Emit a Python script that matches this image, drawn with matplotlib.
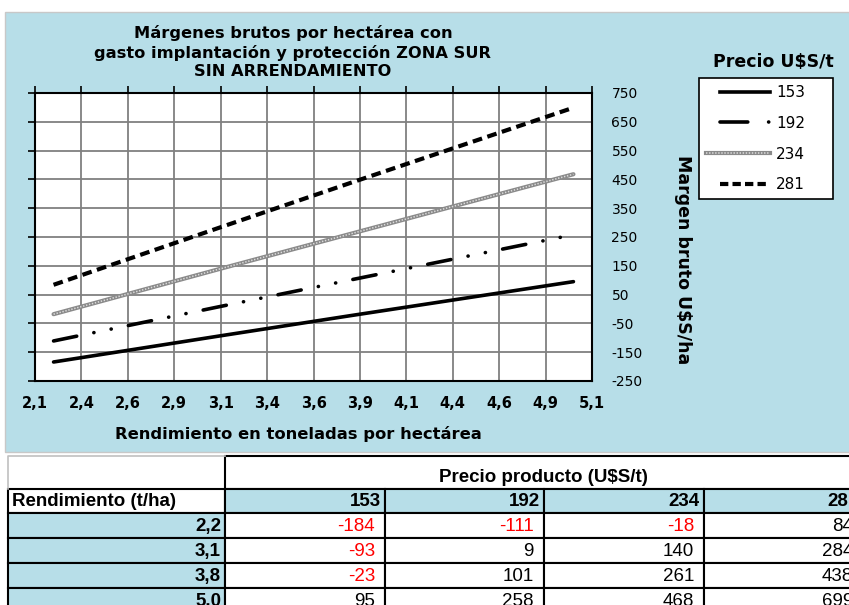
import matplotlib
matplotlib.use('Agg')
import matplotlib.pyplot as plt
from matplotlib.patches import Rectangle
from matplotlib.lines import Line2D
from matplotlib.legend_handler import HandlerLine2D

# ---------------------------------------------------------------------------
# DATA
# ---------------------------------------------------------------------------
yields = [2.2, 3.1, 3.8, 5.0]
yield_labels = ["2,2", "3,1", "3,8", "5,0"]
prices = ["153", "192", "234", "281"]
margin_153 = [-184, -93, -23, 95]
margin_192 = [-111, 9, 101, 258]
margin_234 = [-18, 140, 261, 468]
margin_281 = [84, 284, 438, 699]

x_ticks = [2.1, 2.35, 2.6, 2.85, 3.1, 3.35, 3.6, 3.85, 4.1, 4.35, 4.6, 4.85, 5.1]
x_tick_labels = ["2,1", "2,4", "2,6", "2,9", "3,1", "3,4", "3,6", "3,9",
                 "4,1", "4,4", "4,6", "4,9", "5,1"]
y_ticks = [-250, -150, -50, 50, 150, 250, 350, 450, 550, 650, 750]

W, H = 849, 605
BLUE = '#b7dee8'

plt.rcParams['lines.scale_dashes'] = False
plt.rcParams['font.family'] = ['DejaVu Sans']

fig = plt.figure(figsize=(W / 100, H / 100), dpi=100)
fig.patch.set_facecolor('white')

# background / table layer in pixel coordinates
bg = fig.add_axes([0, 0, 1, 1], zorder=0)
bg.set_xlim(0, W)
bg.set_ylim(H, 0)
bg.axis('off')
bg.add_patch(Rectangle((5, 12), W, 440, facecolor=BLUE, edgecolor='#c8c8c8', lw=1))


def fx(px):
    return px / W


def fy(py):
    return 1 - py / H


# ---------------------------------------------------------------------------
# chart
# ---------------------------------------------------------------------------
ax = fig.add_axes([fx(35), fy(381), fx(592) - fx(35), fy(93) - fy(381)], zorder=2)
ax.set_facecolor('white')

style_192 = (0, (17, 12.6, 0.1, 12.6, 0.1, 12.6))
ax.plot(yields, margin_153, color='black', lw=2.6, solid_capstyle='round')
ax.plot(yields, margin_192, color='black', lw=2.6, dash_capstyle='round',
        linestyle=style_192)
ax.plot(yields, margin_234, color='#8a8a8a', lw=3.0, solid_capstyle='round')
ax.plot(yields, margin_234, color='#dcdcdc', lw=1.1, linestyle=(0, (1, 1.2)))
ax.plot(yields, margin_281, color='black', lw=3.0, linestyle=(0, (7, 4)))

ax.set_xlim(2.1, 5.1)
ax.set_ylim(-250, 750)
ax.set_xticks(x_ticks)
ax.set_xticklabels(x_tick_labels, fontsize=10.5, fontweight='bold')
ax.set_yticks(y_ticks)
ax.set_yticklabels([str(v) for v in y_ticks], fontsize=10)
for lbl, v in zip(ax.get_yticklabels(), y_ticks):
    if v < 0:
        lbl.set_color('red')
    lbl.set_horizontalalignment('left')

ax.xaxis.set_ticks_position('top')
ax.tick_params(axis='x', direction='out', length=5, width=1.2, colors='black',
               labeltop=False, labelbottom=True, pad=6)
ax.yaxis.set_ticks_position('left')
ax.tick_params(axis='y', direction='out', length=5, width=1.2,
               labelleft=False, labelright=True, pad=9)
ax.grid(True, color='#808080', lw=1.3)
for s in ax.spines.values():
    s.set_linewidth(1.5)
    s.set_color('black')

fig.text(fx(293), fy(52), "Márgenes brutos por hectárea con\n"
         "gasto implantación y protección ZONA SUR\nSIN ARRENDAMIENTO",
         ha='center', va='center', fontsize=11.7, fontweight='bold', linespacing=1.25)
fig.text(fx(298), fy(434), "Rendimiento en toneladas por hectárea",
         ha='center', va='center', fontsize=11.8, fontweight='bold')
fig.text(fx(683), fy(260), "Margen bruto U$S/ha", rotation=-90,
         ha='center', va='center', fontsize=12.5, fontweight='bold')

# legend
fig.text(fx(773), fy(62), "Precio U$S/t", ha='center', va='center',
         fontsize=12.5, fontweight='bold')
h153 = Line2D([], [], color='black', lw=2.6)
h192 = Line2D([], [], color='black', lw=2.6, dash_capstyle='round',
              linestyle=(0, (20, 15, 0.1, 20)))
h234 = (Line2D([], [], color='#8a8a8a', lw=3.0),
        Line2D([], [], color='#dcdcdc', lw=1.1, linestyle=(0, (1, 1.2))))
h281 = Line2D([], [], color='black', lw=3.0, linestyle=(0, (6, 3)))
leg = fig.legend([h153, h192, h234, h281], prices, loc='upper left',
                 bbox_to_anchor=(fx(699), fy(203), fx(833) - fx(699), fy(78) - fy(203)),
                 bbox_transform=fig.transFigure, mode='expand',
                 handler_map={Line2D: HandlerLine2D(xpad=0.92)},
                 fontsize=11, handlelength=4.2, handletextpad=0.4,
                 labelspacing=1.03, borderpad=0.46, borderaxespad=0,
                 fancybox=False, frameon=True, edgecolor='black', framealpha=1)
leg.get_frame().set_linewidth(1.2)
leg.set_zorder(3)

# ---------------------------------------------------------------------------
# table below the chart
# ---------------------------------------------------------------------------
tfont = ['Liberation Sans', 'DejaVu Sans']
tsize = 13.5
col_edges = [8, 225, 385, 544, 704, 863]
row_edges = [456, 489, 513, 538, 563, 588, 613]

bg.plot([8, 8, 225], [row_edges[1], row_edges[0], row_edges[0]], color='#c0c0c0', lw=1.2)
bg.add_patch(Rectangle((225, row_edges[0]), 863 - 225, row_edges[1] - row_edges[0],
                       facecolor='white', edgecolor='black', lw=1.5))
bg.text(543, 478, "Precio producto (U$S/t)", ha='center', va='center',
        fontsize=tsize, fontweight='bold', family=tfont)

# header row
y0, y1 = row_edges[1], row_edges[2]
bg.add_patch(Rectangle((8, y0), 225 - 8, y1 - y0, facecolor='white',
                       edgecolor='black', lw=1.5))
bg.text(12, (y0 + y1) / 2 + 1, "Rendimiento (t/ha)", ha='left', va='center',
        fontsize=tsize, fontweight='bold', family=tfont)
for j, p in enumerate(prices):
    x0, x1 = col_edges[j + 1], col_edges[j + 2]
    bg.add_patch(Rectangle((x0, y0), x1 - x0, y1 - y0, facecolor=BLUE,
                           edgecolor='black', lw=1.5))
    bg.text(x1 - 4, (y0 + y1) / 2 + 1, p, ha='right', va='center', fontsize=tsize,
            fontweight='bold', family=tfont)

series = [margin_153, margin_192, margin_234, margin_281]
for i, lab in enumerate(yield_labels):
    y0, y1 = row_edges[i + 2], row_edges[i + 3]
    yc = (y0 + y1) / 2 + 1
    bg.add_patch(Rectangle((8, y0), 225 - 8, y1 - y0, facecolor=BLUE,
                           edgecolor='black', lw=1.5))
    bg.text(221, yc, lab, ha='right', va='center', fontsize=tsize,
            fontweight='bold', family=tfont)
    for j, vals in enumerate(series):
        x0, x1 = col_edges[j + 1], col_edges[j + 2]
        bg.add_patch(Rectangle((x0, y0), x1 - x0, y1 - y0, facecolor='white',
                               edgecolor='black', lw=1.5))
        v = vals[i]
        bg.text(x1 - 10, yc, str(v), ha='right', va='center', fontsize=tsize,
                family=tfont, color='red' if v < 0 else 'black')

fig.savefig('out.png', dpi=100)
